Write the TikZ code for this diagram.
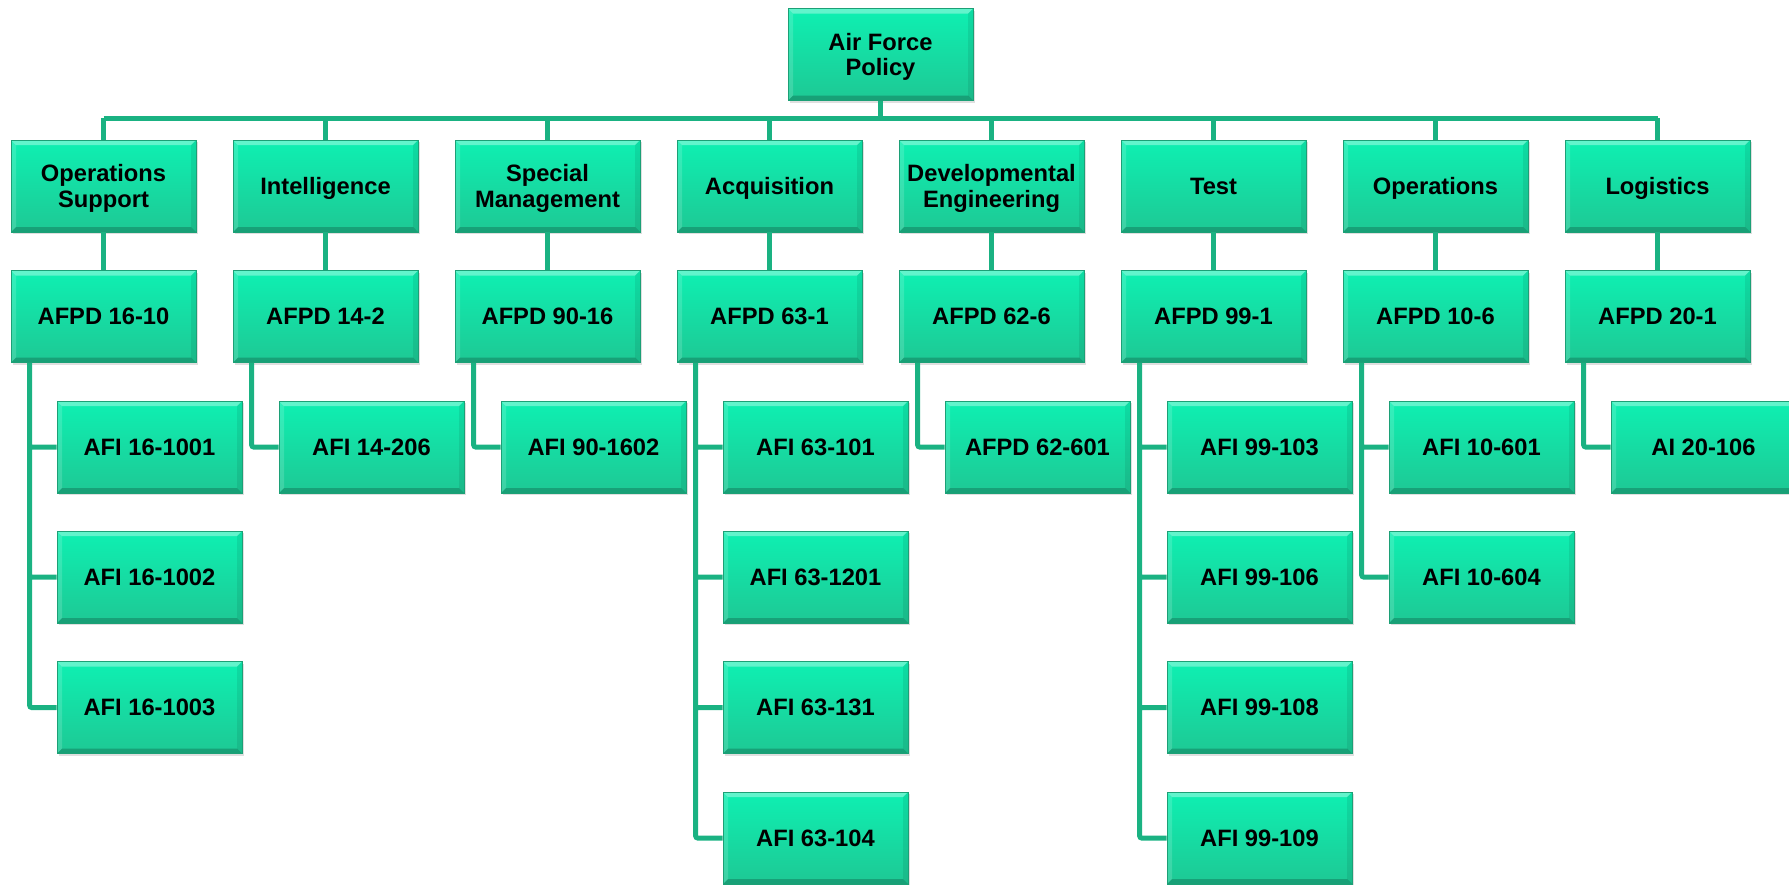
\documentclass[tikz,border=0pt]{standalone}
\usepackage{fontspec}
\setmainfont{Liberation Sans}
\usepackage{xcolor}
\usetikzlibrary{shadows}

\definecolor{boxtop}{RGB}{14,240,178}
\definecolor{boxbot}{RGB}{30,200,148}
\definecolor{boxedge}{RGB}{28,160,118}
\definecolor{linkc}{RGB}{26,178,130}

\tikzset{
  pbox/.style={rectangle, minimum width=92.5pt, minimum height=46pt, inner sep=0pt,
    align=center, top color=boxtop, bottom color=boxbot, draw=boxedge, line width=0.3pt,
    text depth=0pt, font=\bfseries\fontsize{11.85}{12.8}\selectfont,
    drop shadow={opacity=0.25, shadow xshift=1pt, shadow yshift=-1.2pt},
    path picture={
      \fill[white, opacity=0.35] (path picture bounding box.north west)
        -- (path picture bounding box.north east)
        -- ([shift={(-2.5pt,-2.5pt)}]path picture bounding box.north east)
        -- ([shift={(2.5pt,-2.5pt)}]path picture bounding box.north west) -- cycle;
      \fill[white, opacity=0.15] (path picture bounding box.north west)
        -- (path picture bounding box.south west)
        -- ([shift={(2.5pt,2.5pt)}]path picture bounding box.south west)
        -- ([shift={(2.5pt,-2.5pt)}]path picture bounding box.north west) -- cycle;
      \fill[black, opacity=0.2] (path picture bounding box.south west)
        -- (path picture bounding box.south east)
        -- ([shift={(-2.5pt,2.5pt)}]path picture bounding box.south east)
        -- ([shift={(2.5pt,2.5pt)}]path picture bounding box.south west) -- cycle;
      \fill[black, opacity=0.08] (path picture bounding box.north east)
        -- (path picture bounding box.south east)
        -- ([shift={(-2.5pt,2.5pt)}]path picture bounding box.south east)
        -- ([shift={(-2.5pt,-2.5pt)}]path picture bounding box.north east) -- cycle;
    }},
  link/.style={draw=linkc, line width=2.5pt, rounded corners=1pt}
}

\begin{document}
\begin{tikzpicture}[x=0.5pt, y=-0.5pt]
    \useasboundingbox (0,0) rectangle (1789,884);
    \clip (0,0) rectangle (1789,884);

    % top
    \node[pbox](afp) at (880.5, 54.5) {Air Force\\Policy};
    \coordinate (bus) at (880.5, 118);

    % areas
    \node[pbox](opsup)    at ( 103.5, 186) {Operations\\Support};
    \node[pbox](intel)    at ( 325.5, 186) {Intelligence};
    \node[pbox](specmgmt) at ( 547.5, 186) {Special\\Management};
    \node[pbox](acq)      at ( 769.5, 186) {Acquisition};
    \node[pbox](deveng)   at ( 991.5, 186) {Developmental\\Engineering};
    \node[pbox](test)     at (1213.5, 186) {Test};
    \node[pbox](ops)      at (1435.5, 186) {Operations};
    \node[pbox](log)      at (1657.5, 186) {Logistics};

    % directives
    \node[pbox](afpd1610) at ( 103.5, 316.5) {AFPD 16-10};
    \node[pbox](afpd142)  at ( 325.5, 316.5) {AFPD 14-2};
    \node[pbox](afpd9016) at ( 547.5, 316.5) {AFPD 90-16};
    \node[pbox](afpd631)  at ( 769.5, 316.5) {AFPD 63-1};
    \node[pbox](afpd626)  at ( 991.5, 316.5) {AFPD 62-6};
    \node[pbox](afpd991)  at (1213.5, 316.5) {AFPD 99-1};
    \node[pbox](afpd106)  at (1435.5, 316.5) {AFPD 10-6};
    \node[pbox](afpd201)  at (1657.5, 316.5) {AFPD 20-1};

    % instructions
    \node[pbox](afi161001) at ( 149.5, 447) {AFI 16-1001};
    \node[pbox](afi161002) at ( 149.5, 577) {AFI 16-1002};
    \node[pbox](afi161003) at ( 149.5, 707.5) {AFI 16-1003};
    \node[pbox](afi14206)  at ( 371.5, 447) {AFI 14-206};
    \node[pbox](afi901602) at ( 593.5, 447) {AFI 90-1602};
    \node[pbox](afi63101)  at ( 815.5, 447) {AFI 63-101};
    \node[pbox](afi631201) at ( 815.5, 577) {AFI 63-1201};
    \node[pbox](afi63131)  at ( 815.5, 707.5) {AFI 63-131};
    \node[pbox](afi63104)  at ( 815.5, 838) {AFI 63-104};
    \node[pbox](afpd62601) at (1037.5, 447) {AFPD 62-601};
    \node[pbox](afi99103)  at (1259.5, 447) {AFI 99-103};
    \node[pbox](afi99106)  at (1259.5, 577) {AFI 99-106};
    \node[pbox](afi99108)  at (1259.5, 707.5) {AFI 99-108};
    \node[pbox](afi99109)  at (1259.5, 838) {AFI 99-109};
    \node[pbox](afi10601)  at (1481.5, 447) {AFI 10-601};
    \node[pbox](afi10604)  at (1481.5, 577) {AFI 10-604};
    \node[pbox](ai20106)   at (1703.5, 447) {AI 20-106};

    \draw[link] (afp) -- (bus);
    \draw[link] (bus -| opsup.north) -- (bus -| log.north);
    \draw[link] (bus -| opsup.north) -- (opsup.north) (bus -| intel.north) -- (intel.north)
      (bus -| specmgmt.north) -- (specmgmt.north) (bus -| acq.north) -- (acq.north)
      (bus -| deveng.north) -- (deveng.north) (bus -| test.north) -- (test.north)
      (bus -| ops.north) -- (ops.north) (bus -| log.north) -- (log.north);

    \draw[link] (opsup) -- (afpd1610) (intel) -- (afpd142) (specmgmt) -- (afpd9016)
      (acq) -- (afpd631) (deveng) -- (afpd626) (test) -- (afpd991)
      (ops) -- (afpd106) (log) -- (afpd201);

    \draw[link] ([xshift=9.5pt]afpd1610.south west) |- (afi161003.west)
      ([xshift=9.5pt]afpd1610.south west) |- (afi161002.west)
      ([xshift=9.5pt]afpd1610.south west) |- (afi161001.west);
    \draw[link] ([xshift=9.5pt]afpd142.south west) |- (afi14206.west);
    \draw[link] ([xshift=9.5pt]afpd9016.south west) |- (afi901602.west);
    \draw[link] ([xshift=9.5pt]afpd631.south west) |- (afi63104.west)
      ([xshift=9.5pt]afpd631.south west) |- (afi63131.west)
      ([xshift=9.5pt]afpd631.south west) |- (afi631201.west)
      ([xshift=9.5pt]afpd631.south west) |- (afi63101.west);
    \draw[link] ([xshift=9.5pt]afpd626.south west) |- (afpd62601.west);
    \draw[link] ([xshift=9.5pt]afpd991.south west) |- (afi99109.west)
      ([xshift=9.5pt]afpd991.south west) |- (afi99108.west)
      ([xshift=9.5pt]afpd991.south west) |- (afi99106.west)
      ([xshift=9.5pt]afpd991.south west) |- (afi99103.west);
    \draw[link] ([xshift=9.5pt]afpd106.south west) |- (afi10604.west)
      ([xshift=9.5pt]afpd106.south west) |- (afi10601.west);
    \draw[link] ([xshift=9.5pt]afpd201.south west) |- (ai20106.west);
\end{tikzpicture}
\end{document}
